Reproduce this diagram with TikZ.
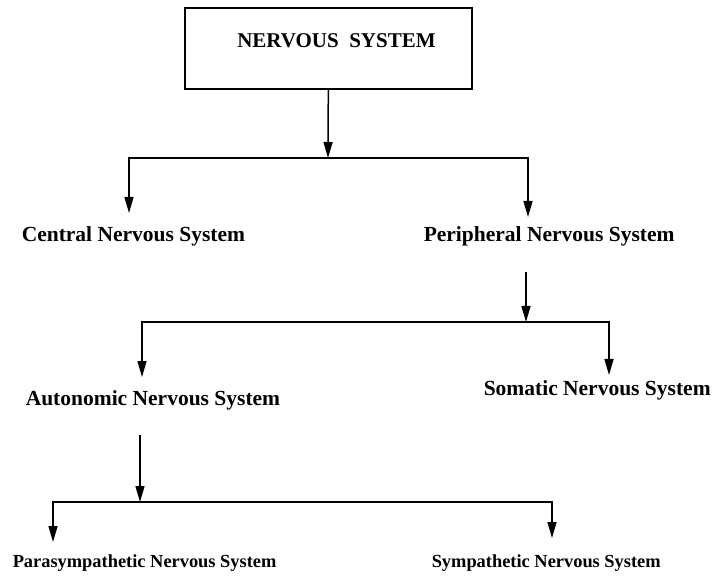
\documentclass[tikz,border=0pt]{standalone}
\usepackage{fontspec}
\setmainfont{Liberation Serif}
\usetikzlibrary{arrows.meta}

\begin{document}
\begin{tikzpicture}[x=1pt,y=-1pt,line width=1.5pt,
    >={Triangle[length=16pt,width=9pt]}]

        \useasboundingbox (0,0) rectangle (715,577);

        \node[draw, minimum width=287pt, minimum height=81pt,
              text height=15pt, text depth=16pt,
              font=\fontsize{21}{21}\selectfont\bfseries]
              (ns) at (328.5,48.5) {\hspace*{16pt}NERVOUS\hspace{0.5em}SYSTEM};

        \begin{scope}[every node/.style={anchor=base west, inner sep=0pt,
                      font=\fontsize{21.5}{21.5}\selectfont\bfseries}]
          \node (cns) at (21,242)  {Central Nervous System};
          \node (pns) at (423,242) {Peripheral Nervous System};
          \node (ans) at (25,405)  {Autonomic Nervous System};
          \node (sns) at (483,395) {Somatic Nervous System};
        \end{scope}

        \begin{scope}[every node/.style={anchor=base west, inner sep=0pt,
                      font=\fontsize{18.4}{18.4}\selectfont\bfseries}]
          \node (psy) at (12,567)  {Parasympathetic Nervous System};
          \node (sym) at (431,567) {Sympathetic Nervous System};
        \end{scope}

        % branch points and arrow tips
        \coordinate (j1)  at (328,158);
        \coordinate (t1a) at (129,213);
        \coordinate (t1b) at (528,217);
        \coordinate (j2)  at (526,322);
        \coordinate (t2a) at (142,377);
        \coordinate (t2b) at (609,375);
        \coordinate (j3)  at (140,502);
        \coordinate (t3a) at (53,542);
        \coordinate (t3b) at (552,538);

        \draw[->] (ns) -- (j1);
        \draw[->] (j1) -| (t1a);
        \draw[->] (j1) -| (t1b);

        \draw[->, shorten <=25pt] (pns.south -| j2) -- (j2);
        \draw[->] (j2) -| (t2a);
        \draw[->] (j2) -| (t2b);

        \draw[->, shorten <=25pt] (ans.south -| j3) -- (j3);
        \draw[->] (j3) -| (t3a);
        \draw[->] (j3) -| (t3b);

      \end{tikzpicture}
\end{document}
